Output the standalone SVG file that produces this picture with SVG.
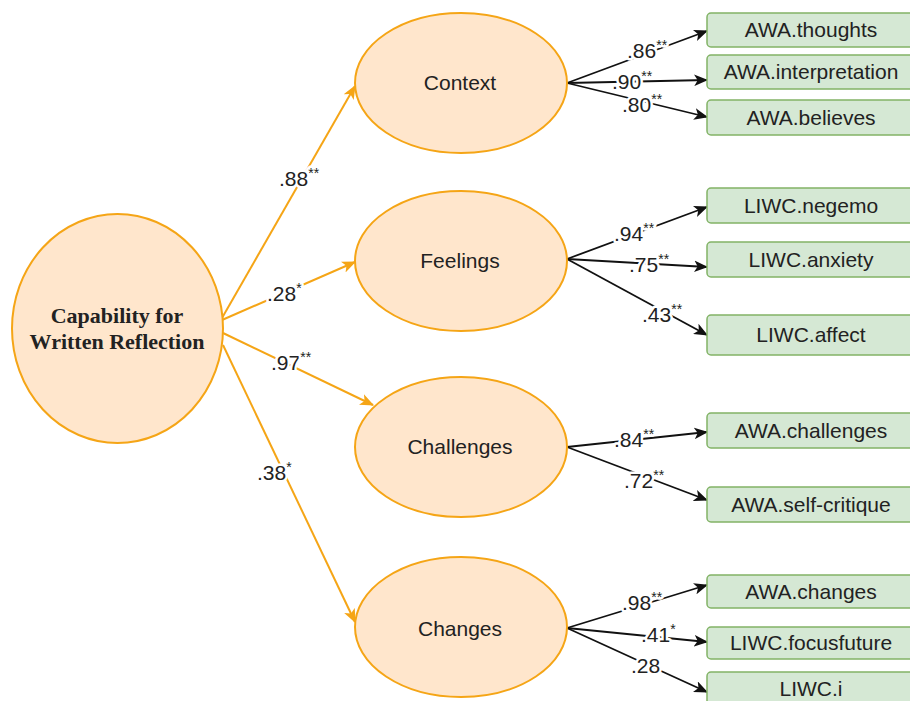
<svg xmlns="http://www.w3.org/2000/svg" width="910" height="701" viewBox="0 0 910 701">
<defs>
<style>
.ell{fill:#ffe6cc;stroke:#f5a516;stroke-width:2}
.box{fill:#d5e8d4;stroke:#82b366;stroke-width:1.5}
.nt{font-family:"Liberation Sans",Arial,sans-serif;font-size:21px;fill:#222;text-anchor:middle}
.bt{font-family:"Liberation Serif","Times New Roman",serif;font-size:22px;font-weight:bold;fill:#222;text-anchor:middle}
.lb{font-family:"Liberation Sans",Arial,sans-serif;font-size:21px;fill:#222;stroke:#fff;stroke-width:5;paint-order:stroke;stroke-linejoin:round}
.st{font-size:14px}
.oa{fill:none;stroke:#f5a516;stroke-width:2;marker-end:url(#ao)}
.ba{fill:none;stroke:#111;stroke-width:1.8;marker-end:url(#ab)}
</style>
<marker id="ao" viewBox="0 0 12 10" refX="11" refY="5" markerWidth="14" markerHeight="12" markerUnits="userSpaceOnUse" orient="auto">
<path d="M0,0 L12,5 L0,10 L3,5 z" fill="#f5a516"/>
</marker>
<marker id="ab" viewBox="0 0 12 10" refX="11" refY="5" markerWidth="14" markerHeight="12" markerUnits="userSpaceOnUse" orient="auto">
<path d="M0,0 L12,5 L0,10 L3,5 z" fill="#111"/>
</marker>
</defs>
<rect width="910" height="701" fill="#fff"/>

<g id="connectors">
<path class="oa" d="M222,318 L355,86"/>
<path class="oa" d="M222,320 L355,262"/>
<path class="oa" d="M223,333 L373,405"/>
<path class="oa" d="M223,345 L355,622"/>

<path class="ba" d="M567,83 L707,31"/>
<path class="ba" d="M567,83 L707,80"/>
<path class="ba" d="M567,83 L707,117"/>

<path class="ba" d="M567,259 L707,207"/>
<path class="ba" d="M567,259 L707,267"/>
<path class="ba" d="M567,259 L707,335"/>

<path class="ba" d="M567,447 L707,432"/>
<path class="ba" d="M567,447 L707,500"/>

<path class="ba" d="M567,628 L707,585"/>
<path class="ba" d="M567,628 L707,642"/>
<path class="ba" d="M567,628 L707,692"/>

<text class="lb" x="279" y="186">.88<tspan class="st" dy="-8">**</tspan></text>
<text class="lb" x="267" y="301">.28<tspan class="st" dy="-8">*</tspan></text>
<text class="lb" x="271" y="370">.97<tspan class="st" dy="-8">**</tspan></text>
<text class="lb" x="257" y="480">.38<tspan class="st" dy="-8">*</tspan></text>

<text class="lb" x="627" y="58">.86<tspan class="st" dy="-8">**</tspan></text>
<text class="lb" x="612" y="89">.90<tspan class="st" dy="-8">**</tspan></text>
<text class="lb" x="622" y="112">.80<tspan class="st" dy="-8">**</tspan></text>

<text class="lb" x="614" y="241">.94<tspan class="st" dy="-8">**</tspan></text>
<text class="lb" x="629" y="272">.75<tspan class="st" dy="-8">**</tspan></text>
<text class="lb" x="642" y="322">.43<tspan class="st" dy="-8">**</tspan></text>

<text class="lb" x="614" y="447">.84<tspan class="st" dy="-8">**</tspan></text>
<text class="lb" x="624" y="488">.72<tspan class="st" dy="-8">**</tspan></text>

<text class="lb" x="622" y="610">.98<tspan class="st" dy="-8">**</tspan></text>
<text class="lb" x="641" y="642">.41<tspan class="st" dy="-8">*</tspan></text>
<text class="lb" x="631" y="673">.28</text>
</g>

<g id="capability">
<ellipse class="ell" cx="117.5" cy="328.5" rx="105.5" ry="114.5"/>
<text class="bt" x="117" y="323">Capability for</text>
<text class="bt" x="117" y="349">Written Reflection</text>
</g>

<g id="context">
<ellipse class="ell" cx="461" cy="83" rx="106" ry="70"/>
<text class="nt" x="460" y="90">Context</text>
</g>
<g id="feelings">
<ellipse class="ell" cx="461" cy="261" rx="106" ry="70"/>
<text class="nt" x="460" y="268">Feelings</text>
</g>
<g id="challenges">
<ellipse class="ell" cx="461" cy="447" rx="106" ry="70"/>
<text class="nt" x="460" y="454">Challenges</text>
</g>
<g id="changes">
<ellipse class="ell" cx="461" cy="627" rx="106" ry="70"/>
<text class="nt" x="460" y="636">Changes</text>
</g>

<g id="awa-thoughts"><rect class="box" x="707" y="13" width="210" height="34" rx="4"/><text class="nt" x="811" y="37">AWA.thoughts</text></g>
<g id="awa-interpretation"><rect class="box" x="707" y="55" width="210" height="34" rx="4"/><text class="nt" x="811" y="79">AWA.interpretation</text></g>
<g id="awa-believes"><rect class="box" x="707" y="100" width="210" height="35" rx="4"/><text class="nt" x="811" y="125">AWA.believes</text></g>

<g id="liwc-negemo"><rect class="box" x="707" y="188" width="210" height="35" rx="4"/><text class="nt" x="811" y="213">LIWC.negemo</text></g>
<g id="liwc-anxiety"><rect class="box" x="707" y="242" width="210" height="35" rx="4"/><text class="nt" x="811" y="267">LIWC.anxiety</text></g>
<g id="liwc-affect"><rect class="box" x="707" y="315" width="210" height="40" rx="4"/><text class="nt" x="811" y="342">LIWC.affect</text></g>

<g id="awa-challenges"><rect class="box" x="707" y="413" width="210" height="35" rx="4"/><text class="nt" x="811" y="438">AWA.challenges</text></g>
<g id="awa-self-critique"><rect class="box" x="707" y="487" width="210" height="35" rx="4"/><text class="nt" x="811" y="512">AWA.self-critique</text></g>

<g id="awa-changes"><rect class="box" x="707" y="575" width="210" height="33" rx="4"/><text class="nt" x="811" y="599">AWA.changes</text></g>
<g id="liwc-focusfuture"><rect class="box" x="707" y="627" width="210" height="32" rx="4"/><text class="nt" x="811" y="650">LIWC.focusfuture</text></g>
<g id="liwc-i"><rect class="box" x="707" y="672" width="210" height="40" rx="4"/><text class="nt" x="811" y="696">LIWC.i</text></g>
</svg>
